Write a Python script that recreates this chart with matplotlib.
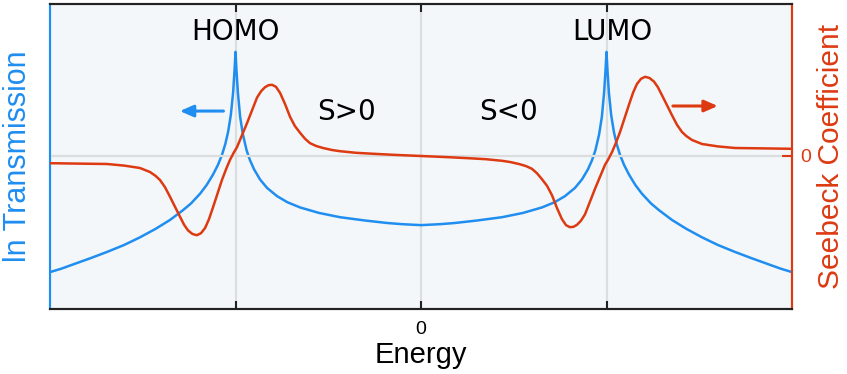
import matplotlib
matplotlib.use("Agg")
import matplotlib.pyplot as plt

# ---- data (arbitrary units) ----
energy_T = [-2.000, -1.940, -1.876, -1.780, -1.693, -1.600, -1.515, -1.430, -1.353,
            -1.283, -1.240, -1.191, -1.155, -1.121, -1.095, -1.073, -1.055, -1.040,
            -1.025, -1.013, -1.005, -1.000, -0.995, -0.987, -0.975, -0.960, -0.940,
            -0.922, -0.900, -0.868, -0.830, -0.776, -0.720, -0.652, -0.550, -0.437,
            -0.300, -0.183, -0.100, 0.000,
            0.100, 0.183, 0.300, 0.437, 0.550, 0.652, 0.720, 0.776, 0.830,
            0.868, 0.900, 0.922, 0.940, 0.960, 0.975, 0.987, 0.995, 1.000,
            1.005, 1.013, 1.025, 1.040, 1.055, 1.073, 1.095, 1.121, 1.155,
            1.191, 1.240, 1.283, 1.353, 1.430, 1.515, 1.600, 1.693, 1.780,
            1.876, 1.940, 2.000]
ln_trans = [1.21, 1.32, 1.46, 1.67, 1.87, 2.10, 2.35, 2.63, 2.92,
            3.24, 3.46, 3.78, 4.07, 4.41, 4.72, 5.05, 5.41, 5.80,
            6.37, 7.09, 7.85, 8.43, 7.85, 7.09, 6.30, 5.72, 5.20,
            4.88, 4.58, 4.25, 3.97, 3.70, 3.50, 3.33, 3.15, 3.01,
            2.90, 2.82, 2.78, 2.75,
            2.78, 2.82, 2.90, 3.01, 3.15, 3.33, 3.50, 3.70, 3.97,
            4.25, 4.58, 4.88, 5.20, 5.72, 6.30, 7.09, 7.85, 8.43,
            7.85, 7.09, 6.37, 5.80, 5.41, 5.05, 4.72, 4.41, 4.07,
            3.78, 3.46, 3.24, 2.92, 2.63, 2.35, 2.10, 1.87, 1.67,
            1.46, 1.32, 1.21]

energy_S = [-2.000, -1.850, -1.693, -1.600, -1.515, -1.461, -1.430, -1.407, -1.380,
            -1.353, -1.325, -1.299, -1.277, -1.256, -1.232, -1.208, -1.186, -1.164,
            -1.143, -1.121, -1.097, -1.073, -1.050, -1.030, -1.010, -0.992, -0.965,
            -0.938, -0.911, -0.884, -0.862, -0.841, -0.822, -0.803, -0.782, -0.760,
            -0.733, -0.706, -0.680, -0.652, -0.625, -0.598, -0.565, -0.528, -0.480,
            -0.437, -0.350, -0.275, -0.150, 0.000,
            0.150, 0.275, 0.350, 0.437, 0.480, 0.528, 0.565, 0.598, 0.625,
            0.652, 0.680, 0.706, 0.733, 0.760, 0.782, 0.803, 0.822, 0.841,
            0.862, 0.884, 0.911, 0.938, 0.965, 0.992, 1.010, 1.030, 1.050,
            1.073, 1.097, 1.121, 1.143, 1.164, 1.186, 1.208, 1.232, 1.256,
            1.277, 1.299, 1.325, 1.353, 1.380, 1.407, 1.430, 1.461, 1.515,
            1.600, 1.693, 1.850, 2.000]
seebeck = [-0.090, -0.095, -0.100, -0.120, -0.150, -0.200, -0.250, -0.300, -0.390,
           -0.510, -0.640, -0.760, -0.860, -0.930, -0.975, -0.990, -0.965, -0.900,
           -0.790, -0.640, -0.470, -0.300, -0.160, -0.050, 0.040, 0.110, 0.260,
           0.410, 0.570, 0.730, 0.810, 0.860, 0.885, 0.890, 0.865, 0.790,
           0.650, 0.490, 0.375, 0.290, 0.215, 0.160, 0.125, 0.100, 0.075,
           0.060, 0.040, 0.030, 0.015, 0.000,
           -0.015, -0.030, -0.040, -0.060, -0.075, -0.100, -0.125, -0.160, -0.215,
           -0.290, -0.375, -0.490, -0.650, -0.790, -0.865, -0.890, -0.885, -0.860,
           -0.810, -0.730, -0.570, -0.410, -0.260, -0.110, -0.040, 0.050, 0.160,
           0.300, 0.470, 0.640, 0.790, 0.900, 0.965, 0.990, 0.975, 0.930,
           0.860, 0.760, 0.640, 0.510, 0.390, 0.300, 0.250, 0.200, 0.150,
           0.120, 0.100, 0.095, 0.090]

orbital_pos = [-1.0, 1.0]
orbital_names = ["HOMO", "LUMO"]

BLUE = "#1f8ef0"
RED = "#dd3a12"
GRID = "#dadede"

fig = plt.figure(figsize=(8.47, 3.74), dpi=100)
ax1 = fig.add_axes([50 / 847, 65 / 374, 742 / 847, 305 / 374])
ax1.set_facecolor("#f4f7f9")
ax2 = ax1.twinx()

ax1.set_xlim(-2, 2)
ax1.set_ylim(0, 10)
ax2.set_ylim(-1.9125, 1.9)

# grid lines
for xv in [-1, 0, 1]:
    ax1.axvline(xv, color=GRID, lw=1.6, zorder=0)
ax2.axhline(0, color=GRID, lw=1.6, zorder=0)

ax1.plot(energy_T, ln_trans, color=BLUE, lw=1.8, zorder=3)
ax2.plot(energy_S, seebeck, color=RED, lw=1.8, zorder=3)

# spines
for ax in (ax1, ax2):
    ax.spines["top"].set_color("#222222")
    ax.spines["bottom"].set_color("#222222")
    ax.spines["left"].set_color(BLUE)
    ax.spines["right"].set_color(RED)
    for s in ax.spines.values():
        s.set_linewidth(1.5)

# ticks
ax1.set_xticks([-1, 0, 1])
ax1.set_xticklabels(["", "0", ""], fontsize=14, family="Liberation Sans")
ax1.tick_params(axis="x", direction="in", length=6, width=1.5, color="#222222",
                top=True, pad=9)
ax1.set_yticks([])
ax2.set_yticks([0])
ax2.set_yticklabels(["0"], fontsize=14, family="Liberation Sans", color=RED)
ax2.tick_params(axis="y", direction="in", length=7, width=1.5, color=RED, pad=6)

ax1.set_xlabel("Energy", fontsize=21, family="Liberation Sans", labelpad=2)
ax1.set_ylabel("ln Transmission", fontsize=22, family="Liberation Sans", color=BLUE,
               labelpad=12)
ax2.set_ylabel("Seebeck Coefficient", fontsize=21.5, family="Liberation Sans", color=RED,
               labelpad=4)

# annotations
ax1.text(orbital_pos[0], 0.908, orbital_names[0], transform=ax1.get_xaxis_transform(),
         ha="center", va="center", fontsize=20, family="DejaVu Sans")
ax1.text(orbital_pos[1] + 0.03, 0.908, orbital_names[1], transform=ax1.get_xaxis_transform(),
         ha="center", va="center", fontsize=20, family="DejaVu Sans")
ax1.text(-0.40, 0.646, "S>0", transform=ax1.get_xaxis_transform(),
         ha="center", va="center", fontsize=20, family="DejaVu Sans")
ax1.text(0.47, 0.646, "S<0", transform=ax1.get_xaxis_transform(),
         ha="center", va="center", fontsize=20, family="DejaVu Sans")

ax1.annotate("", xy=(-1.30, 6.49), xytext=(-1.065, 6.49),
             arrowprops=dict(arrowstyle="-|>,head_length=0.8,head_width=0.35",
                             color=BLUE, lw=2.2, shrinkA=0, shrinkB=0))
ax2.annotate("", xy=(1.60, 0.625), xytext=(1.358, 0.625),
             arrowprops=dict(arrowstyle="-|>,head_length=0.8,head_width=0.35",
                             color=RED, lw=2.2, shrinkA=0, shrinkB=0))

fig.savefig("out.png", dpi=100, facecolor="white")
